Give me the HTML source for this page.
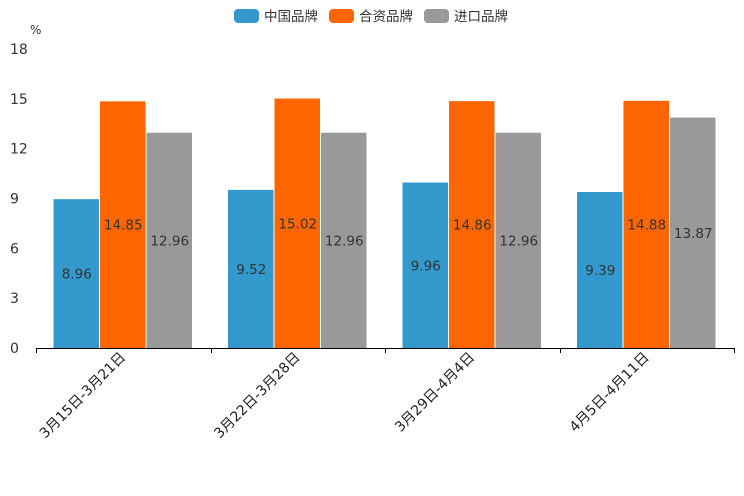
<!DOCTYPE html>
<html><head><meta charset="utf-8"><style>
body{margin:0;background:#fff;}
svg{display:block;font-family:"DejaVu Sans","Liberation Sans","Noto Sans CJK SC",sans-serif;}
</style></head><body>
<svg id="chart" width="744" height="496"></svg>
<script>
const categories = ["3月15日-3月21日","3月22日-3月28日","3月29日-4月4日","4月5日-4月11日"];
const seriesNames = ["中国品牌","合资品牌","进口品牌"];
const chinaValues = [8.96, 9.52, 9.96, 9.39];
const jvValues = [14.85, 15.02, 14.86, 14.88];
const importValues = [12.96, 12.96, 12.96, 13.87];
const yTicks = [0, 3, 6, 9, 12, 15, 18];
const colors = ["#3398cc","#ff6600","#999999"];
const series = [chinaValues, jvValues, importValues];

const NS = "http://www.w3.org/2000/svg";
const svg = document.getElementById("chart");
const x0 = 36, x1 = 734, yBase = 348, yTop = 49, yMax = 18;
const bandW = (x1 - x0) / categories.length;
const barW = 46.5, pad = (bandW - barW * 3) / 2;
function yScale(v){ return yBase - v / yMax * (yBase - yTop); }
function xBand(i){ return x0 + i * bandW; }
function mk(tag, attrs, parent){
  const e = document.createElementNS(NS, tag);
  for (const k in attrs) e.setAttribute(k, attrs[k]);
  (parent || svg).appendChild(e);
  return e;
}

const u = mk("text", {x: 30, y: 34, "font-size": 12, fill: "#333"});


u.textContent = "%";
yTicks.forEach(t => {
  const tx = mk("text", {x: 10, y: yScale(t) + 5, "font-size": 14, fill: "#333"});
  
  
  tx.textContent = t;
});

categories.forEach((c, i) => {
  series.forEach((s, j) => {
    const v = s[i];
    const bx = xBand(i) + pad + j * barW;
    const by = yScale(v);
    const r = mk("rect", {x: bx, y: by, width: barW - 1, height: yBase - by, fill: colors[j]});
    
    
    const t = mk("text", {x: bx + barW / 2, y: (by + yBase) / 2 + 5, "font-size": 13.5, fill: "#333", "text-anchor": "middle"});
    
    
    t.textContent = v.toFixed(2);
  });
  const lx = xBand(i) + bandW / 2 + 3;
  const lab = mk("text", {x: lx, y: 358, "font-size": 14, fill: "#222", "text-anchor": "end", transform: `rotate(-45 ${lx} 358)`});
  
  
  lab.textContent = c;
});

const ax = mk("line", {x1: x0, x2: x1, y1: yBase + 0.5, y2: yBase + 0.5, stroke: "#000", "stroke-width": 1});


for (let i = 0; i <= categories.length; i++) {
  const xx = Math.round(xBand(i)) + 0.5;
  const tk = mk("line", {x1: xx, x2: xx, y1: yBase, y2: yBase + 5, stroke: "#000"});
  
  
}

const lg = mk("g", {});


const legX = [234, 329, 424];
seriesNames.forEach((n, j) => {
  const g = mk("g", {}, lg);
  
  
  mk("rect", {x: legX[j], y: 9, width: 25, height: 14, rx: 4, fill: colors[j]}, g);
  const t = mk("text", {x: legX[j] + 30, y: 21, "font-size": 13.5, fill: "#333"}, g);
  t.textContent = n;
});
</script>
</body></html>
